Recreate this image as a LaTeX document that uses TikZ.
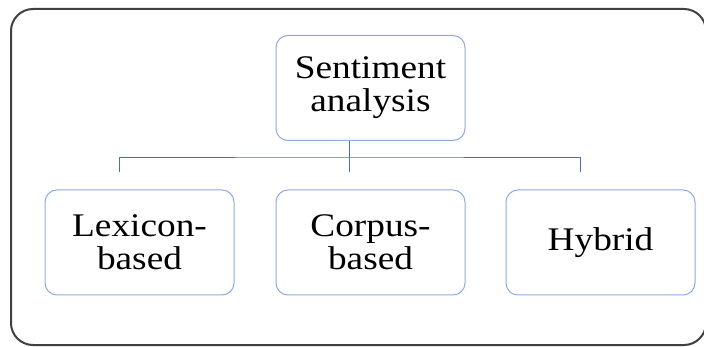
\documentclass[tikz,border=0pt]{standalone}
\usepackage{fontspec}
\setmainfont{Liberation Serif}
\newfontfamily\boxfont[FakeStretch=1.13]{Liberation Serif}
\usepackage{tikz}
\usetikzlibrary{positioning, calc}
\definecolor{boxline}{HTML}{8FAADC}
\definecolor{linkline}{HTML}{4A6FB5}
\definecolor{frameline}{HTML}{404040}
\tikzset{
    block_topic/.style={rectangle, draw=boxline, line width=1pt, rounded corners=12pt, minimum width=189pt, minimum height=105pt, align=center, inner sep=0pt, font=\boxfont\fontsize{33}{33}\selectfont},
    link/.style={draw=linkline, line width=0.9pt}
}
\begin{document}
\begin{tikzpicture}[x=1pt, y=-1pt]

    \useasboundingbox (0,0) rectangle (704,347);

    % Outer frame
    \draw[frameline, line width=2pt, rounded corners=22pt] (11,9) rectangle (706,345);

    % Boxes
    \node[block_topic] (sentiment) at (370.5,88) {Sentiment\\analysis};
    \node[block_topic] (lexicon) at (139.5,242.5) {Lexicon-\\based};
    \node[block_topic] (corpus) at (370.5,242.5) {Corpus-\\based};
    \node[block_topic] (hybrid) at (600.5,242.5) {Hybrid};

    % Tree lines
    \coordinate (hub) at (349,157);
    \coordinate (stubL) at (119,172);
    \coordinate (stubC) at (349,172);
    \coordinate (stubR) at (580,172);
    \draw[link] (sentiment.south -| hub) -- (stubC);
    \draw[link] (stubL) |- (hub) -| (stubR);

\end{tikzpicture}
\end{document}
